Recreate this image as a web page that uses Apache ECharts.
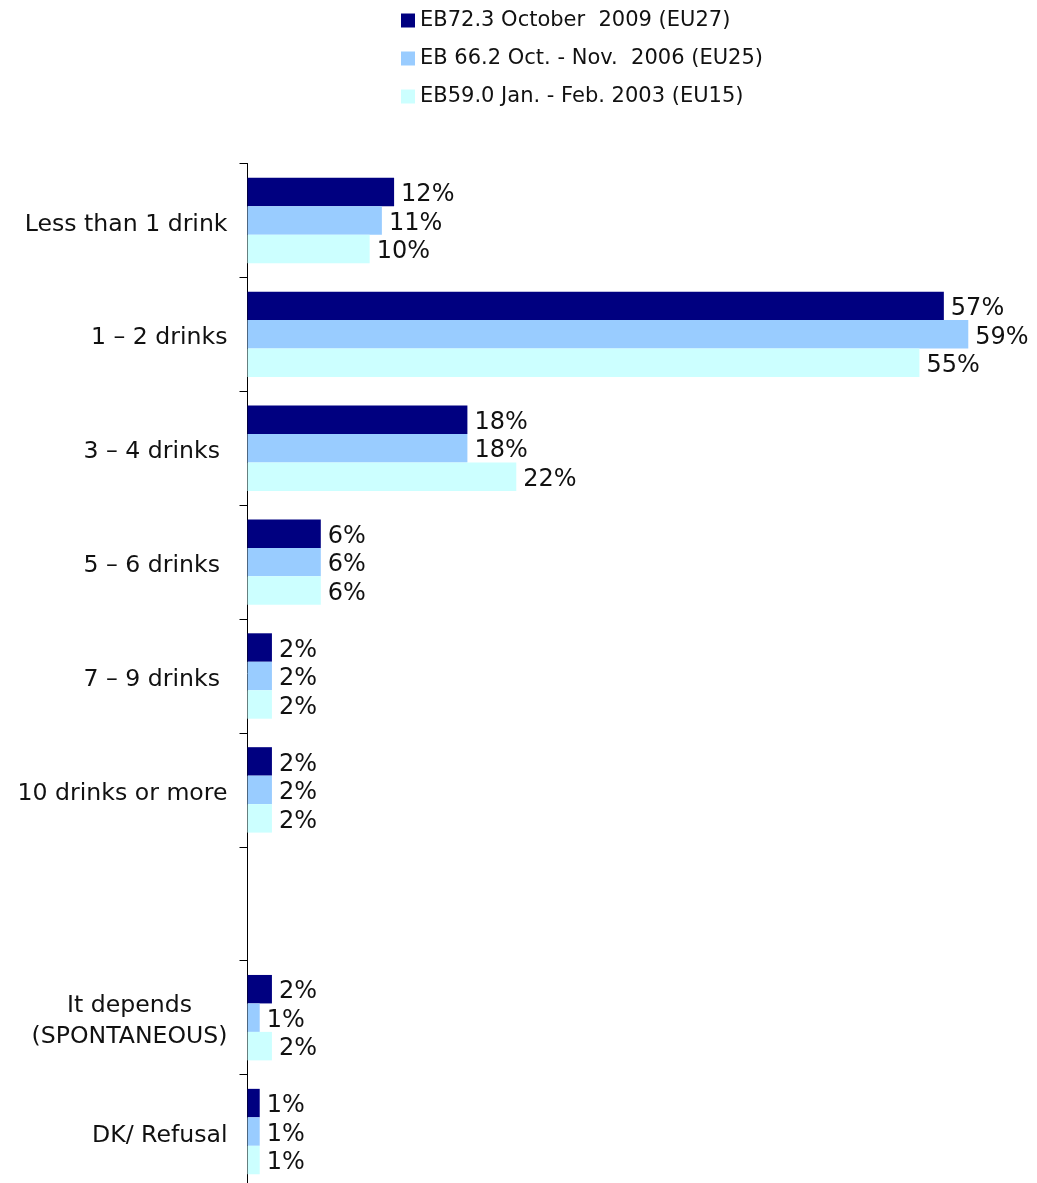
<!DOCTYPE html>
<html>
<head>
<meta charset="utf-8">
<script src="https://cdn.jsdelivr.net/npm/echarts@6/dist/echarts.min.js"></script>
<style>
html,body{margin:0;padding:0;background:#fff;}
#chart{width:1037px;height:1183px;}
</style>
</head>
<body>
<div id="chart"></div>
<script>
const categories = ['Less than 1 drink', '1 \u2013 2 drinks', '3 \u2013 4 drinks ', '5 \u2013 6 drinks ', '7 \u2013 9 drinks ', '10 drinks or more', '', 'It depends\n(SPONTANEOUS)', 'DK/ Refusal'];
const seriesNames = ['EB72.3 October  2009 (EU27)', 'EB 66.2 Oct. - Nov.  2006 (EU25)', 'EB59.0 Jan. - Feb. 2003 (EU15)'];
const eb2009 = [12, 57, 18, 6, 2, 2, null, 2, 1];
const eb2006 = [11, 59, 18, 6, 2, 2, null, 1, 1];
const eb2003 = [10, 55, 22, 6, 2, 2, null, 2, 1];
const colors = ['#000080', '#99CCFF', '#CCFFFF'];

const FONT = 'DejaVu Sans';
const chart = echarts.init(document.getElementById('chart'));
const mkSeries = (name, data, color) => ({
  name, type: 'bar', data,
  barGap: '0%', barCategoryGap: '25%',
  itemStyle: { color },
  label: {
    show: true, position: 'right', distance: 7, offset: [0, 3],
    formatter: p => (p.value == null ? '' : p.value + '%'),
    fontFamily: FONT, fontSize: 24, color: '#111'
  }
});
chart.setOption({
  animation: false,
  backgroundColor: '#ffffff',
  legend: {
    orient: 'vertical', left: 396, top: 5,
    itemWidth: 14, itemHeight: 14, itemGap: 17,
    icon: 'rect',
    textStyle: { fontFamily: FONT, fontSize: 21, color: '#111' },
    data: seriesNames
  },
  grid: { left: 247.5, top: 163.5, width: 733, height: 1025, containLabel: false, outerBoundsMode: 'none' },
  xAxis: { type: 'value', min: 0, max: 60, show: false, splitLine: { show: false } },
  yAxis: {
    type: 'category', inverse: true, data: categories,
    axisLine: { show: true, lineStyle: { color: '#000', width: 1 } },
    axisTick: { show: true, length: 8, lineStyle: { color: '#000' } },
    axisLabel: {
      margin: 20,
      padding: [8, 0, 0, 0],
      formatter: v => v.split('\n').map(l => '{c|' + l + '}').join('\n'),
      rich: {
        c: { align: 'center', fontFamily: FONT, fontSize: 23.6, color: '#111', lineHeight: 31 }
      }
    }
  },
  series: [
    mkSeries(seriesNames[0], eb2009, colors[0]),
    mkSeries(seriesNames[1], eb2006, colors[1]),
    mkSeries(seriesNames[2], eb2003, colors[2])
  ]
});
</script>
</body>
</html>
